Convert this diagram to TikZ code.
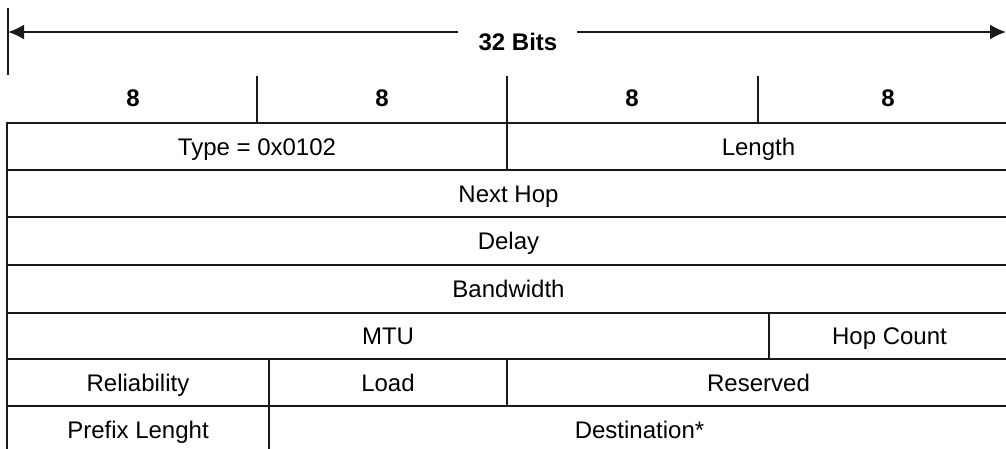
\documentclass[tikz,border=0pt]{standalone}
\usepackage{fontspec}
\setmainfont{Liberation Sans}
\usetikzlibrary{arrows.meta}
\begin{document}
\begin{tikzpicture}[x=1pt,y=-1pt,
  cell/.style={draw=black!90, line width=2pt, inner sep=0pt, outer sep=0pt,
    font=\fontsize{24}{28}\selectfont, text height=17.2pt, text depth=0pt},
  hdr/.style={inner sep=0pt, font=\bfseries\fontsize{24}{28}\selectfont,
    text height=17.2pt, text depth=0pt},
  rule/.style={line width=2pt, draw=black!90},
  dim/.style={line width=2pt, draw=black!90, -{Latex[length=16pt,width=15pt]}}]
\useasboundingbox (0,0) rectangle (1006,448);
% title and dimension arrow
\node[hdr] (title) at (518,42) {32 Bits};
\coordinate (gl) at (458,32);
\coordinate (gr) at (577,32);
\coordinate (al) at (8,32);
\coordinate (ar) at (1006,32);
\coordinate (tt) at (8,8);
\coordinate (tb) at (8,75);
\draw[rule] (tt) -- (tb);
\draw[dim] (gl) -- (al);
\draw[dim] (gr) -- (ar);
% byte labels and ticks
\node[hdr] (b1) at (133,98) {8};
\node[hdr] (b2) at (382,98) {8};
\node[hdr] (b3) at (632,98) {8};
\node[hdr] (b4) at (888,98) {8};
\foreach \x/\n in {257/a,507/b,758/c}{
  \coordinate (t\n) at (\x,76);
  \coordinate (u\n) at (\x,123);
  \draw[rule] (t\n) -- (u\n);
}
% rows
\node[cell, minimum width=500pt, minimum height=47pt] (type) at (257,146.5) {Type = 0x0102};
\node[cell, minimum width=503pt, minimum height=47pt] (length) at (758.5,146.5) {Length};
\node[cell, minimum width=1003pt, minimum height=47pt] (nexthop) at (508.5,193.5) {Next Hop};
\node[cell, minimum width=1003pt, minimum height=48pt] (delay) at (508.5,241) {Delay};
\node[cell, minimum width=1003pt, minimum height=48pt] (bw) at (508.5,289) {Bandwidth};
\node[cell, minimum width=762pt, minimum height=46pt] (mtu) at (388,336) {MTU};
\node[cell, minimum width=241pt, minimum height=46pt] (hop) at (889.5,336) {Hop Count};
\node[cell, minimum width=262pt, minimum height=47pt] (rel) at (138,382.5) {Reliability};
\node[cell, minimum width=238pt, minimum height=47pt] (load) at (388,382.5) {Load};
\node[cell, minimum width=503pt, minimum height=47pt] (res) at (758.5,382.5) {Reserved};
\node[cell, minimum width=262pt, minimum height=47pt] (prefix) at (138,429.5) {Prefix Lenght};
\node[cell, minimum width=741pt, minimum height=47pt] (dest) at (639.5,429.5) {Destination*};
\end{tikzpicture}
\end{document}
